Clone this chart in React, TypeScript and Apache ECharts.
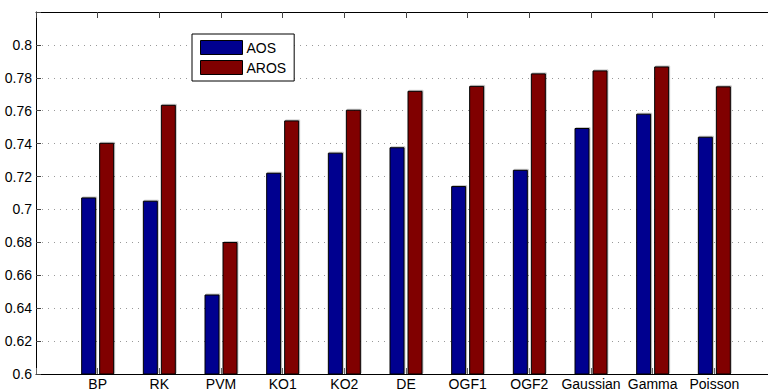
import React, { useEffect, useRef } from "react";
import * as echarts from "echarts";

const categories = ["BP", "RK", "PVM", "KO1", "KO2", "DE", "OGF1", "OGF2", "Gaussian", "Gamma", "Poisson"];
const aosValues = [0.7073, 0.7053, 0.6483, 0.7223, 0.7345, 0.7378, 0.7142, 0.7241, 0.7495, 0.7582, 0.7442];
const arosValues = [0.7405, 0.7636, 0.6802, 0.7541, 0.7606, 0.7721, 0.7751, 0.7827, 0.7845, 0.7869, 0.7748];
const seriesNames = ["AOS", "AROS"];
const yTicks = [0.6, 0.62, 0.64, 0.66, 0.68, 0.7, 0.72, 0.74, 0.76, 0.78, 0.8];

const FONT = "'Liberation Sans', Arial, Helvetica, sans-serif";

export default function App() {
  const ref = useRef<HTMLDivElement>(null);
  useEffect(() => {
    if (!ref.current) return;
    const chart = echarts.init(ref.current, undefined, { renderer: "svg" });
    const pos = (i: number) => i + 1;
    const xFormatter = (v: number) => {
      const i = Math.round(v) - 1;
      return i >= 0 && i < categories.length ? categories[i] : "";
    };
    const yFormatter = (v: number) => {
      const r = parseFloat(v.toFixed(2));
      return yTicks.some((t) => Math.abs(t - r) < 1e-6) ? String(r) : "";
    };
    const barStyle = (color: string) => ({
      color,
      borderColor: "#000",
      borderWidth: 1,
      shadowColor: "rgba(0,0,0,0.22)",
      shadowOffsetX: 1,
      shadowOffsetY: -1,
      shadowBlur: 0,
    });
    chart.setOption({
      animation: false,
      backgroundColor: "#fff",
      textStyle: { fontFamily: FONT },
      grid: { left: 36, top: 12, width: 740, height: 362, outerBoundsMode: "none", containLabel: false },
      legend: {
        left: 192,
        top: 34,
        orient: "vertical",
        data: seriesNames,
        itemWidth: 42,
        itemHeight: 14,
        itemGap: 5,
        padding: [6, 8, 6, 8],
        borderColor: "#000",
        borderWidth: 1,
        backgroundColor: "#fff",
        itemStyle: { borderColor: "#000", borderWidth: 1, shadowBlur: 0, shadowOffsetX: 0, shadowOffsetY: 0, shadowColor: "transparent" },
        textStyle: { fontFamily: FONT, fontSize: 14, color: "#000", padding: [0, 0, 0, -1] },
        icon: "rect",
      },
      xAxis: [
        {
          type: "value",
          position: "bottom",
          min: 0,
          max: 12,
          interval: 1,
          axisLine: { show: true, lineStyle: { color: "#000", width: 1 } },
          axisTick: { show: true, inside: true, length: 6, lineStyle: { color: "#666" } },
          axisLabel: { formatter: xFormatter, fontFamily: FONT, fontSize: 14, lineHeight: 14, color: "#000", margin: 3 },
          splitLine: { show: false },
        },
        {
          type: "value",
          position: "top",
          min: 0,
          max: 12,
          interval: 1,
          axisLine: { show: true, onZero: false, lineStyle: { color: "#000", width: 1 } },
          axisTick: { show: true, inside: true, length: 6, lineStyle: { color: "#444" } },
          axisLabel: { show: false },
          splitLine: { show: false },
        },
      ],
      yAxis: {
        type: "value",
        min: 0.6,
        max: 0.82,
        interval: 0.02,
        axisLine: { show: true, lineStyle: { color: "#000", width: 1 } },
        axisTick: { show: true, inside: true, length: 5, lineStyle: { color: "#444" } },
        axisLabel: { formatter: yFormatter, fontFamily: FONT, fontSize: 14, color: "#000", margin: 4 },
        splitLine: { show: true, lineStyle: { color: "#999", width: 1, type: [1, 5] } },
      },
      series: [
        {
          name: seriesNames[0],
          type: "bar",
          xAxisIndex: 0,
          barWidth: 15,
          barGap: "20%",
          itemStyle: barStyle("#00008F"),
          data: aosValues.map((v, i) => [pos(i), v]),
        },
        {
          name: seriesNames[1],
          type: "bar",
          xAxisIndex: 0,
          barWidth: 15,
          barGap: "20%",
          itemStyle: barStyle("#800000"),
          data: arosValues.map((v, i) => [pos(i), v]),
        },
      ],
    });
    return () => chart.dispose();
  }, []);
  return (
    <div
      ref={ref}
      style={{ position: "fixed", left: 0, top: 0, width: 768, height: 391, background: "#fff" }}
    />
  );
}
